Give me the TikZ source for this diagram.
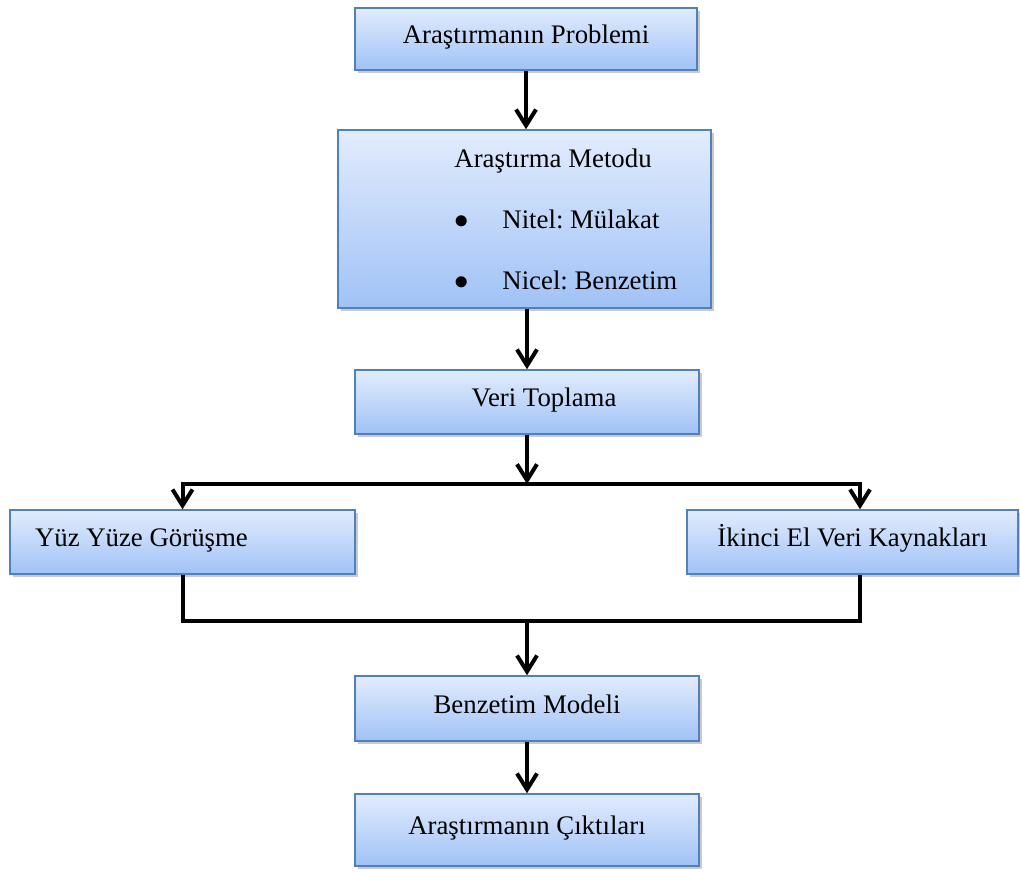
\documentclass[tikz,border=0pt]{standalone}
\usepackage{fontspec}
\setmainfont{Liberation Serif}
\usetikzlibrary{arrows.meta,shadows}

\definecolor{boxtop}{RGB}{226,236,253}
\definecolor{boxbot}{RGB}{160,194,246}
\definecolor{boxline}{RGB}{79,129,189}

\tikzset{every node/.style={font=\fontsize{13.4}{16}\selectfont, text height=0.7em, text depth=0.25em}}
\tikzstyle{box}=[rectangle, draw=boxline, line width=0.75pt, top color=boxtop, bottom color=boxbot,
  drop shadow={shadow xshift=1.5pt, shadow yshift=-1.5pt, opacity=0.35, fill=black!60}]
\tikzstyle{line}=[line width=2pt]
\tikzstyle{link}=[line, -{Straight Barb[length=8pt, width=10pt]}]

\begin{document}
\begin{tikzpicture}[x=0.5pt, y=-0.5pt]
  \useasboundingbox (0,0) rectangle (1020,871);

  % kutular
  \node [box, minimum width=171pt, minimum height=31pt] (prob) at (526,39) {Araştırmanın Problemi};
  \node [box, minimum width=186.5pt, minimum height=89pt] (metod) at (524.5,219) {};
  \node [anchor=west, align=flush left, inner sep=0pt, text height=, text depth=,
         font=\fontsize{13.4}{30.5}\selectfont\frenchspacing] (metodtext) at (454,219)
    {Araştırma Metodu\\
     \makebox[24pt][l]{$\bullet$}Nitel: Mülakat\\
     \makebox[24pt][l]{$\bullet$}Nicel: Benzetim};
  \node [box, minimum width=172pt, minimum height=32pt] (veri) at (527,402) {\hspace*{17pt}Veri Toplama};
  \node [box, minimum height=32pt, text width=147.5pt, inner xsep=12.5pt, align=flush left] (yuz) at (182.5,542) {Yüz Yüze Görüşme};
  \node [box, minimum width=165.5pt, minimum height=32pt] (ikinci) at (852.5,542) {İkinci El Veri Kaynakları};
  \node [box, minimum width=172pt, minimum height=32.5pt] (model) at (527,708.5) {Benzetim Modeli};
  \node [box, minimum width=172pt, minimum height=36pt] (cikti) at (527,830) {Araştırmanın Çıktıları};

  \coordinate (split) at (527,484);
  \coordinate (join) at (527,621);

  % oklar
  \draw [link] (prob.south) -- (prob.south |- metod.north);
  \draw [link] (veri.north |- metod.south) -- (veri.north);
  \draw [link] (veri.south) -- (split);
  \draw [link] (split) -| (yuz.north);
  \draw [link] (split) -| ([xshift=3.75pt]ikinci.north);
  \draw [line] (yuz.south) |- (join) -| ([xshift=3.75pt]ikinci.south);
  \draw [link] (join) -- (join |- model.north);
  \draw [link] (model) -- (cikti);
\end{tikzpicture}
\end{document}
